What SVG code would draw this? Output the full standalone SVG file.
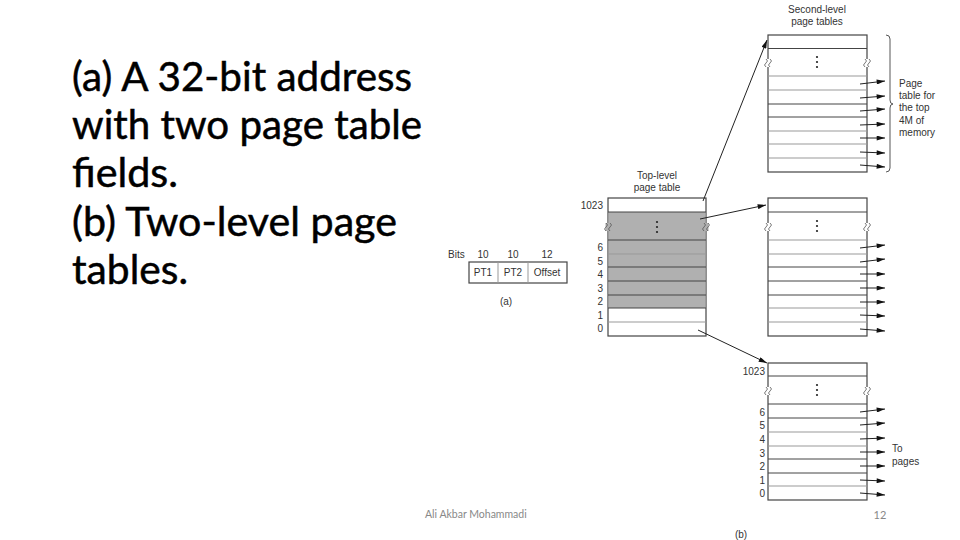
<svg xmlns="http://www.w3.org/2000/svg" width="960" height="540" viewBox="0 0 960 540">
<defs>
<marker id="ah" viewBox="0 0 10 6" refX="10" refY="3" markerWidth="10" markerHeight="5" markerUnits="userSpaceOnUse" orient="auto">
<path d="M0,0 L10,3 L0,6 z" fill="#111"/>
</marker>
<g id="sq">
<rect x="-2.5" y="-4" width="5" height="8" fill="#fff"/>
<path d="M-2,-4 q3,2 0,4 q-3,2 0,4 M2,-4 q3,2 0,4 q-3,2 0,4" fill="none" stroke="#555" stroke-width="0.8"/>
</g>
<g id="sqg">
<rect x="-2.5" y="-4" width="5" height="8" fill="#b0b0b0"/>
<path d="M-2,-4 q3,2 0,4 q-3,2 0,4 M2,-4 q3,2 0,4 q-3,2 0,4" fill="none" stroke="#555" stroke-width="0.8"/>
</g>
<g id="dots">
<circle cx="0" cy="-5" r="1.1" fill="#222"/>
<circle cx="0" cy="0" r="1.1" fill="#222"/>
<circle cx="0" cy="5" r="1.1" fill="#222"/>
</g>
</defs>
<style>
.title{font-family:Lato,"Open Sans",sans-serif;font-size:40px;fill:#000;stroke:#000;stroke-width:0.5}
.lbl{font-family:"Liberation Sans",Arial,sans-serif;font-size:10px;fill:#333}
.lc{text-anchor:middle}
.lr{text-anchor:end}
.box{fill:#fff;stroke:#444;stroke-width:1.2}
.row{stroke:#444;stroke-width:1}
.rowl{stroke:#999;stroke-width:1}
.grey{fill:#b0b0b0}
.con{fill:none;stroke:#222;stroke-width:1;marker-end:url(#ah)}
.foot{font-family:Lato,"Open Sans",sans-serif;font-size:11px;fill:#888}
</style>
<rect width="960" height="540" fill="#fff"/>

<g id="title">
<text class="title" x="72" y="91" textLength="340" lengthAdjust="spacingAndGlyphs">(a) A 32-bit address</text>
<text class="title" x="72" y="139" textLength="350" lengthAdjust="spacingAndGlyphs">with two page table</text>
<text class="title" x="72" y="187" textLength="106" lengthAdjust="spacingAndGlyphs">fields.</text>
<text class="title" x="72" y="236" textLength="325" lengthAdjust="spacingAndGlyphs">(b) Two-level page</text>
<text class="title" x="72" y="284" textLength="116" lengthAdjust="spacingAndGlyphs">tables.</text>
</g>

<g id="address-fields">
<text class="lbl" x="448" y="258">Bits</text>
<text class="lbl lc" x="483" y="258">10</text>
<text class="lbl lc" x="513" y="258">10</text>
<text class="lbl lc" x="547" y="258">12</text>
<rect class="box" x="469" y="262" width="98" height="21"/>
<line class="rowl" x1="498" y1="262" x2="498" y2="283"/>
<line class="rowl" x1="528" y1="262" x2="528" y2="283"/>
<text class="lbl lc" x="483" y="276">PT1</text>
<text class="lbl lc" x="513" y="276">PT2</text>
<text class="lbl lc" x="547" y="276">Offset</text>
<text class="lbl lc" x="506" y="305">(a)</text>
</g>

<g id="top-level-table">
<text class="lbl lc" x="657" y="179">Top-level</text>
<text class="lbl lc" x="657" y="191">page table</text>
<rect class="box" x="608" y="198" width="98" height="138"/>
<rect class="grey" x="608.6" y="212" width="96.8" height="96"/>
<line class="row" x1="608" y1="212" x2="706" y2="212"/>
<line class="row" x1="608" y1="240" x2="706" y2="240"/>
<line class="rowl" x1="608" y1="254" x2="706" y2="254"/>
<line class="row" x1="608" y1="267" x2="706" y2="267"/>
<line class="row" x1="608" y1="281" x2="706" y2="281"/>
<line class="row" x1="608" y1="295" x2="706" y2="295"/>
<line class="row" x1="608" y1="308" x2="706" y2="308"/>
<line class="rowl" x1="608" y1="322" x2="706" y2="322"/>
<use href="#sqg" x="608" y="227"/>
<use href="#sqg" x="706" y="227"/>
<use href="#dots" x="657" y="227"/>
<text class="lbl lr" x="603" y="209">1023</text>
<text class="lbl lr" x="603" y="251">6</text>
<text class="lbl lr" x="603" y="265">5</text>
<text class="lbl lr" x="603" y="278">4</text>
<text class="lbl lr" x="603" y="292">3</text>
<text class="lbl lr" x="603" y="305">2</text>
<text class="lbl lr" x="603" y="319">1</text>
<text class="lbl lr" x="603" y="332">0</text>
</g>

<g id="second-level-top">
<text class="lbl lc" x="817" y="13">Second-level</text>
<text class="lbl lc" x="817" y="25">page tables</text>
<rect class="box" x="768" y="35" width="99" height="137"/>
<line class="row" x1="768" y1="48.5" x2="867" y2="48.5"/>
<line class="rowl" x1="768" y1="76" x2="867" y2="76"/>
<line class="rowl" x1="768" y1="90" x2="867" y2="90"/>
<line class="row" x1="768" y1="104" x2="867" y2="104"/>
<line class="row" x1="768" y1="117" x2="867" y2="117"/>
<line class="rowl" x1="768" y1="131" x2="867" y2="131"/>
<line class="rowl" x1="768" y1="144" x2="867" y2="144"/>
<line class="rowl" x1="768" y1="158" x2="867" y2="158"/>
<use href="#sq" x="768" y="63"/>
<use href="#sq" x="867" y="63"/>
<use href="#dots" x="817" y="62"/>
<path d="M886,35 Q890,35 890,39 L890,100 Q890,104 893,104 Q890,104 890,108 L890,168 Q890,172 886,172" fill="none" stroke="#444" stroke-width="0.9"/>
<text class="lbl" x="899" y="87">Page</text>
<text class="lbl" x="899" y="99">table for</text>
<text class="lbl" x="899" y="111">the top</text>
<text class="lbl" x="899" y="124">4M of</text>
<text class="lbl" x="899" y="136">memory</text>
</g>

<g id="second-level-middle">
<rect class="box" x="768" y="198" width="99" height="138"/>
<line class="row" x1="768" y1="212" x2="867" y2="212"/>
<line class="rowl" x1="768" y1="240" x2="867" y2="240"/>
<line class="rowl" x1="768" y1="254" x2="867" y2="254"/>
<line class="row" x1="768" y1="267" x2="867" y2="267"/>
<line class="row" x1="768" y1="281" x2="867" y2="281"/>
<line class="row" x1="768" y1="295" x2="867" y2="295"/>
<line class="rowl" x1="768" y1="308" x2="867" y2="308"/>
<line class="rowl" x1="768" y1="322" x2="867" y2="322"/>
<use href="#sq" x="768" y="227"/>
<use href="#sq" x="867" y="227"/>
<use href="#dots" x="817" y="226"/>
</g>

<g id="second-level-bottom">
<rect class="box" x="768" y="363" width="99" height="137"/>
<line class="row" x1="768" y1="376" x2="867" y2="376"/>
<line class="row" x1="768" y1="404" x2="867" y2="404"/>
<line class="row" x1="768" y1="418" x2="867" y2="418"/>
<line class="rowl" x1="768" y1="432" x2="867" y2="432"/>
<line class="rowl" x1="768" y1="446" x2="867" y2="446"/>
<line class="row" x1="768" y1="459" x2="867" y2="459"/>
<line class="row" x1="768" y1="473" x2="867" y2="473"/>
<line class="rowl" x1="768" y1="486" x2="867" y2="486"/>
<use href="#sq" x="768" y="391"/>
<use href="#sq" x="867" y="391"/>
<use href="#dots" x="817" y="390"/>
<text class="lbl lr" x="765" y="375">1023</text>
<text class="lbl lr" x="765" y="416">6</text>
<text class="lbl lr" x="765" y="429">5</text>
<text class="lbl lr" x="765" y="443">4</text>
<text class="lbl lr" x="765" y="457">3</text>
<text class="lbl lr" x="765" y="470">2</text>
<text class="lbl lr" x="765" y="484">1</text>
<text class="lbl lr" x="765" y="497">0</text>
<text class="lbl" x="892" y="452">To</text>
<text class="lbl" x="892" y="465">pages</text>
</g>

<g id="connectors">
<line class="con" x1="703" y1="201" x2="767" y2="40"/>
<line class="con" x1="700" y1="219" x2="766" y2="205"/>
<line class="con" x1="698" y1="330" x2="767" y2="363"/>
<line class="con" x1="860" y1="84" x2="885" y2="81"/>
<line class="con" x1="860" y1="98" x2="885" y2="96"/>
<line class="con" x1="860" y1="111" x2="885" y2="109"/>
<line class="con" x1="860" y1="125" x2="885" y2="124"/>
<line class="con" x1="860" y1="138" x2="885" y2="138"/>
<line class="con" x1="860" y1="152" x2="885" y2="153"/>
<line class="con" x1="860" y1="165" x2="885" y2="167"/>
<line class="con" x1="860" y1="248" x2="885" y2="245"/>
<line class="con" x1="860" y1="262" x2="885" y2="259"/>
<line class="con" x1="860" y1="274" x2="885" y2="274"/>
<line class="con" x1="860" y1="288" x2="885" y2="288"/>
<line class="con" x1="860" y1="302" x2="885" y2="302"/>
<line class="con" x1="860" y1="315" x2="885" y2="316"/>
<line class="con" x1="860" y1="329" x2="885" y2="331"/>
<line class="con" x1="860" y1="412" x2="885" y2="409"/>
<line class="con" x1="860" y1="425" x2="885" y2="423"/>
<line class="con" x1="860" y1="439" x2="885" y2="438"/>
<line class="con" x1="860" y1="452" x2="885" y2="452"/>
<line class="con" x1="860" y1="466" x2="885" y2="466"/>
<line class="con" x1="860" y1="480" x2="885" y2="481"/>
<line class="con" x1="860" y1="493" x2="885" y2="495"/>
</g>

<g id="footer">
<text class="foot" x="425" y="518" style="font-size:10.5px">Ali Akbar Mohammadi</text>
<text class="foot" x="880" y="519" text-anchor="middle">12</text>
<text class="lbl lc" x="741" y="538">(b)</text>
</g>
</svg>
